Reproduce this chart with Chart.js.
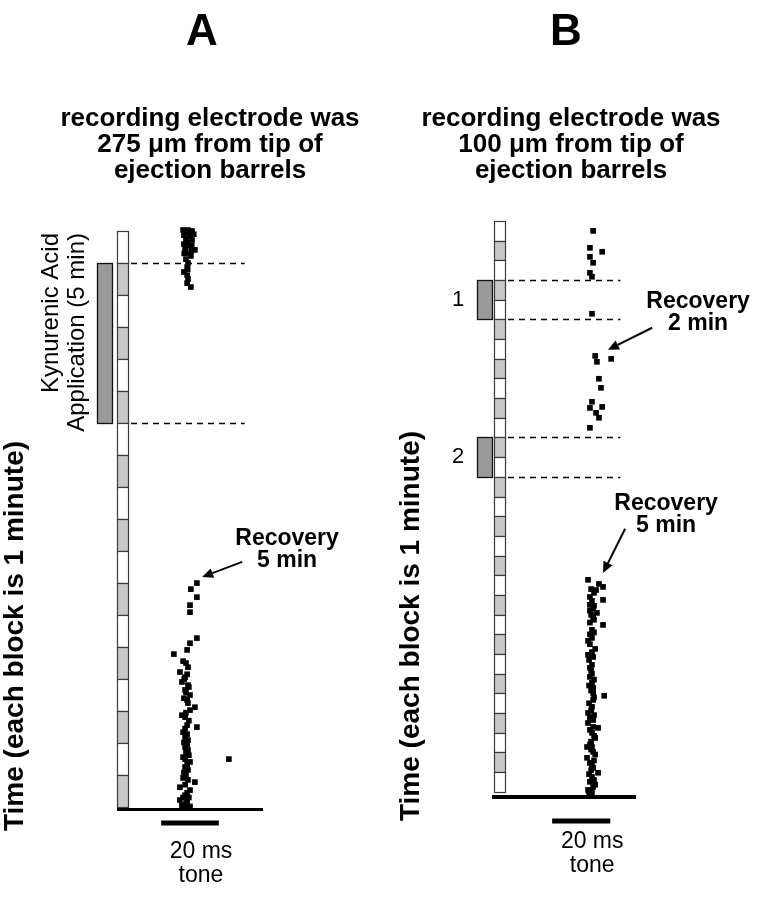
<!DOCTYPE html>
<html><head><meta charset="utf-8">
<script src="https://cdn.jsdelivr.net/npm/chart.js@4/dist/chart.umd.min.js"></script>
<style>
html,body{margin:0;padding:0;background:#fff;}
#wrap{position:relative;width:765px;height:899px;overflow:hidden;}
canvas{position:absolute;top:0;}
</style></head><body>
<div id="wrap">
<canvas id="cA" width="383" height="899" style="left:0px"></canvas>
<canvas id="cB" width="382" height="899" style="left:383px"></canvas>
</div>
<script>
// ---------------- DATA ----------------
const panelLetters = ['A', 'B'];
const subtitleA = ['recording electrode was', '275 \u03bcm from tip of', 'ejection barrels'];
const subtitleB = ['recording electrode was', '100 \u03bcm from tip of', 'ejection barrels'];
const yTitle = 'Time (each block is 1 minute)';
const toneLabel = ['20 ms', 'tone'];
const toneStartMs = 0, toneEndMs = 20;

// number of 1-minute blocks in each time column
const blocksA = 18;
const blocksB = 29;
// kynurenic acid applications [start minute, end minute]
const applicationsA = [[1, 6]];
const applicationsB = [[3, 5], [11, 13]];
const applicationLabelsB = ['1', '2'];
const applicationTextA = ['Kynurenic Acid', 'Application (5 min)'];

// spike latencies (ms after tone onset) and times (minutes)
const spikesA_ms = [7.6, 9.3, 10.7, 7.9, 10.0, 8.6, 10.7, 7.9, 9.7, 11.7, 8.3, 9.3, 10.3, 8.6, 9.3, 9.0, 7.9, 9.0, 9.3, 9.0, 10.3,
  8.3, 9.9, 11.3, 9.0, 10.6, 8.0, 10.5, 9.2,
  12.4, 10.3, 12.4, 10.0, 10.0, 12.4, 10.0, 9.0, 4.4, 7.6, 9.3, 6.5, 8.3, 7.2, 9.3, 8.3, 10.0, 9.0, 11.7, 10.0, 7.2, 8.3,
  9.0, 12.4, 7.6, 8.3, 9.3, 8.3, 9.3, 7.6, 23.5, 10.0, 8.3, 9.3, 7.6, 11.7, 6.5, 10.0, 8.3, 6.5, 9.0, 7.2, 8.3,
  8.6, 9.0, 8.0, 9.6, 8.6, 7.9, 9.3, 8.6, 9.6, 8.3, 9.0, 7.9, 9.0, 8.6, 9.6, 8.3, 9.0, 7.9, 8.6, 9.3, 8.3, 9.0, 7.6, 9.6, 8.6, 10.0, 7.6];
const spikesA_min = [-0.03, -0.03, 0.0, 0.13, 0.16, 0.25, 0.28, 0.41, 0.47, 0.59, 0.56, 0.69, 0.78, 0.88, 1.0, 1.13, 1.28, 1.38, 1.5, 1.63, 1.75,
  0.05, 0.06, 0.1, 0.35, 0.45, 0.7, 0.62, 1.2,
  11.0, 11.19, 11.44, 11.69, 11.91, 12.72, 12.88, 13.09, 13.22, 13.44, 13.63, 13.78, 13.94, 14.09, 14.19, 14.34, 14.5, 14.66, 14.88, 14.97, 15.13, 15.19,
  15.44, 15.5, 15.66, 15.81, 15.91, 16.13, 16.22, 16.44, 16.5, 16.59, 16.75, 16.84, 17.09, 17.22, 17.38, 17.47, 17.63, 17.78, 17.84, 17.94, 18.0,
  13.5, 13.85, 14.0, 14.25, 14.42, 14.6, 14.75, 15.05, 15.3, 15.55, 15.72, 15.98, 16.05, 16.3, 16.38, 16.5, 16.67, 16.92, 17.0, 17.15, 17.3, 17.55, 17.7, 17.7, 17.88, 17.98, 18.02];

const spikesB_ms = [14.1, 13.0, 17.2, 13.0, 14.1, 13.0, 13.7, 13.7, 14.8, 15.4, 20.3, 16.1, 16.8, 13.7, 13.0, 17.2, 15.1, 16.1, 13.0,
  12.35, 16.1, 17.5, 14.4, 13.0, 17.5, 13.0, 15.4, 13.4, 14.4, 17.5, 13.7, 13.7, 12.35, 14.8, 12.35, 12.7, 13.7, 13.0, 13.7,
  14.1, 14.1, 17.9, 14.1, 13.7, 12.35, 13.0, 12.35, 14.1, 15.8, 13.7, 14.8, 12.0, 13.7, 14.1, 12.0, 13.0, 14.1, 15.8, 13.7,
  13.0, 14.8, 12.35, 13.7, 13.4, 14.4, 12.7, 14.4, 13.4, 14.8, 13.4, 14.4, 13.0, 14.1,
  13.4, 15.1, 13.7, 14.4, 13.0, 14.1, 13.0, 14.4, 13.0, 13.7, 14.1, 13.0, 13.7, 12.7, 13.4, 14.4, 13.4, 14.1, 13.0, 14.4,
  13.0, 13.4, 14.4, 13.7, 12.7, 14.1, 13.4, 12.7];
const spikesB_min = [0.51, 1.37, 1.57, 1.83, 2.13, 2.64, 2.84, 4.72, 6.86, 7.16, 7.01, 8.02, 8.48, 9.19, 9.5, 9.45, 9.75, 10.0, 10.51,
  18.23, 18.44, 18.59, 18.89, 19.1, 19.25, 19.5, 19.91, 20.01, 20.26, 20.52, 20.77, 21.18, 21.33, 21.74, 22.04, 22.3, 22.55, 23.16, 23.46,
  23.72, 23.97, 24.12, 24.33, 24.68, 24.99, 25.24, 25.5, 25.7, 25.75, 26.0, 26.26, 26.72, 26.72, 26.97, 27.27, 27.53, 27.78, 28.03, 28.24,
  28.49, 28.64, 28.9, 29.0, 22.85, 23.3, 24.5, 25.1, 26.45, 27.1, 27.9, 28.4, 21.0, 19.7,
  18.7, 18.75, 19.3, 19.55, 19.8, 20.15, 20.4, 20.9, 21.5, 21.9, 22.15, 22.7, 23.0, 23.6, 23.85, 24.2, 24.85, 25.35, 25.85, 26.15,
  26.6, 26.85, 27.4, 27.65, 28.1, 28.75, 29.05, 29.05];

// annotation texts and their anchors (ms, minutes)
const recoveryA = [{ lines: ['Recovery', '5 min'], text: [43.7, 9.81], tail: [28.1, 10.34], tip: [14.2, 10.81] }];
const recoveryB = [
  { lines: ['Recovery', '2 min'], text: [50.2, 4.42], tail: [34.4, 5.43], tip: [19.2, 6.55] },
  { lines: ['Recovery', '5 min'], text: [39.2, 14.68], tail: [25.1, 15.64], tip: [17.5, 17.88] }
];

// ---------------- DRAWING ----------------
const FONT = '"Liberation Sans", Arial, Helvetica, sans-serif';

function toPoints(xs, ys) { return xs.map((v, i) => ({ x: v, y: ys[i] })); }

function arrow(ctx, x0, y0, x1, y1) {
  const ang = Math.atan2(y1 - y0, x1 - x0), L = 11, W = 5;
  const bx = x1 - L * Math.cos(ang), by = y1 - L * Math.sin(ang);
  ctx.beginPath(); ctx.moveTo(x0, y0); ctx.lineTo(bx, by);
  ctx.lineWidth = 2; ctx.strokeStyle = '#000'; ctx.stroke();
  ctx.beginPath();
  ctx.moveTo(x1, y1);
  ctx.lineTo(bx + W * Math.sin(ang), by - W * Math.cos(ang));
  ctx.lineTo(bx - W * Math.sin(ang), by + W * Math.cos(ang));
  ctx.closePath(); ctx.fillStyle = '#000'; ctx.fill();
}

const figurePlugin = {
  id: 'figure',
  beforeDatasetsDraw(chart, args, o) {
    const ctx = chart.ctx, xs = chart.scales.x, ys = chart.scales.y, ca = chart.chartArea;
    ctx.save();
    const colL = ca.left + o.colOffset, colW = o.colWidth;
    // minute blocks
    for (let i = 0; i < o.blocks; i++) {
      const y0 = Math.round(ys.getPixelForValue(i)), y1 = Math.round(ys.getPixelForValue(i + 1));
      ctx.fillStyle = i % 2 === 0 ? '#ffffff' : '#c8c8c8';
      ctx.fillRect(colL, y0, colW, y1 - y0);
      ctx.strokeStyle = '#3a3a3a'; ctx.lineWidth = 1.2;
      ctx.strokeRect(colL + 0.5, y0 + 0.5, colW - 1, y1 - y0);
    }
    // application bars + dashed lines
    o.applications.forEach(([s, e], k) => {
      const y0 = Math.round(ys.getPixelForValue(s)), y1 = Math.round(ys.getPixelForValue(e));
      const x1 = colL - o.barGap, x0 = x1 - o.barWidth;
      ctx.fillStyle = '#999999'; ctx.fillRect(x0, y0, o.barWidth, y1 - y0);
      ctx.strokeStyle = '#111'; ctx.lineWidth = 1.3;
      ctx.strokeRect(x0 + 0.5, y0 + 0.5, o.barWidth - 1, y1 - y0);
      ctx.setLineDash([6, 5]); ctx.lineWidth = 1.3; ctx.strokeStyle = '#000';
      [y0, y1].forEach(y => {
        ctx.beginPath(); ctx.moveTo(colL + colW + 2, y + 0.5);
        ctx.lineTo(xs.getPixelForValue(o.dashEnd), y + 0.5); ctx.stroke();
      });
      ctx.setLineDash([]);
      if (o.appLabels) {
        ctx.font = '22px ' + FONT; ctx.fillStyle = '#000';
        ctx.textAlign = 'center'; ctx.textBaseline = 'middle';
        ctx.fillText(o.appLabels[k], x0 - 19, (y0 + y1) / 2);
      }
    });
    ctx.restore();
  },
  afterDraw(chart, args, o) {
    const ctx = chart.ctx, xs = chart.scales.x, ys = chart.scales.y, ca = chart.chartArea;
    ctx.save();
    ctx.fillStyle = '#000';
    // panel letter
    ctx.font = 'bold 44px ' + FONT; ctx.textAlign = 'center'; ctx.textBaseline = 'alphabetic';
    ctx.fillText(o.letter, o.letterX, 45);
    // subtitle
    ctx.font = 'bold 26px ' + FONT;
    o.subtitle.forEach((t, i) => ctx.fillText(t, o.subX, 126 + i * 26));
    // y title (rotated)
    ctx.save();
    ctx.translate(0, o.yTitleY); ctx.rotate(-Math.PI / 2);
    ctx.font = 'bold 28px ' + FONT; ctx.textAlign = 'center';
    ctx.fillText(yTitle, 0, o.yTitleX);
    ctx.restore();
    // application text (rotated, ending at the top of the time column)
    if (o.appText) {
      const top = ys.getPixelForValue(0) + 2;
      ctx.save();
      ctx.translate(0, top); ctx.rotate(-Math.PI / 2);
      ctx.font = '24px ' + FONT; ctx.textAlign = 'right';
      ctx.fillText(o.appText[0], 0, o.appTextX - 26);
      ctx.fillText(o.appText[1], 0, o.appTextX);
      ctx.restore();
    }
    // tone bar + label
    const tx0 = xs.getPixelForValue(toneStartMs), tx1 = xs.getPixelForValue(toneEndMs);
    const ty = ca.bottom + o.toneOffset;
    ctx.fillRect(tx0, ty - 2.5, tx1 - tx0, 5);
    ctx.font = '23px ' + FONT; ctx.textAlign = 'center'; ctx.textBaseline = 'alphabetic';
    const tc = (tx0 + tx1) / 2 + 11;
    ctx.fillText(toneLabel[0], tc, ty + o.toneText);
    ctx.fillText(toneLabel[1], tc, ty + o.toneText + 24);
    // recovery annotations
    o.recovery.forEach(r => {
      ctx.font = 'bold 23px ' + FONT; ctx.textAlign = 'center';
      const px = xs.getPixelForValue(r.text[0]), py = ys.getPixelForValue(r.text[1]);
      ctx.fillText(r.lines[0], px, py);
      ctx.fillText(r.lines[1], px, py + 22);
      arrow(ctx, xs.getPixelForValue(r.tail[0]), ys.getPixelForValue(r.tail[1]),
        xs.getPixelForValue(r.tip[0]), ys.getPixelForValue(r.tip[1]));
    });
    ctx.restore();
  }
};

function makePanel(id, cfg) {
  return new Chart(document.getElementById(id), {
    type: 'scatter',
    data: {
      datasets: [{
        data: toPoints(cfg.ms, cfg.min),
        pointStyle: 'rect', pointRadius: 4, pointHoverRadius: 4,
        backgroundColor: '#000', borderColor: '#000', borderWidth: 0
      }]
    },
    options: {
      responsive: false, animation: false, events: [],
      layout: { padding: cfg.padding },
      plugins: { legend: { display: false }, tooltip: { enabled: false }, title: { display: false }, figure: cfg.fig },
      scales: {
        x: {
          type: 'linear', min: cfg.xMin, max: cfg.xMax, display: true,
          ticks: { display: false }, grid: { display: false, drawTicks: false },
          border: { display: true, color: '#000', width: cfg.axisWidth }
        },
        y: { type: 'linear', reverse: true, min: cfg.yMin, max: cfg.yMax, display: false }
      }
    },
    plugins: [figurePlugin]
  });
}

makePanel('cA', {
  ms: spikesA_ms, min: spikesA_min, xMin: -15, xMax: 35, yMin: -0.5, yMax: 18.06,
  padding: { left: 118, right: 121, top: 215, bottom: 90 }, axisWidth: 3,
  fig: {
    letter: panelLetters[0], letterX: 202, subtitle: subtitleA, subX: 210,
    yTitleX: 23, yTitleY: 636, blocks: blocksA, applications: applicationsA,
    colOffset: -1, colWidth: 12, barGap: 4, barWidth: 16, dashEnd: 29,
    appText: applicationTextA, appTextX: 84, toneOffset: 14, toneText: 35,
    recovery: recoveryA
  }
});
makePanel('cB', {
  ms: spikesB_ms, min: spikesB_min, xMin: -20, xMax: 28.5, yMin: -0.5, yMax: 29.26,
  padding: { left: 111, right: 130, top: 211, bottom: 102 }, axisWidth: 4,
  fig: {
    letter: panelLetters[1], letterX: 183, subtitle: subtitleB, subX: 188,
    yTitleX: 36, yTitleY: 626, blocks: blocksB, applications: applicationsB, appLabels: applicationLabelsB,
    colOffset: 0, colWidth: 12, barGap: 1, barWidth: 16, dashEnd: 23.5,
    toneOffset: 24, toneText: 27, recovery: recoveryB
  }
});
</script>
</body></html>
